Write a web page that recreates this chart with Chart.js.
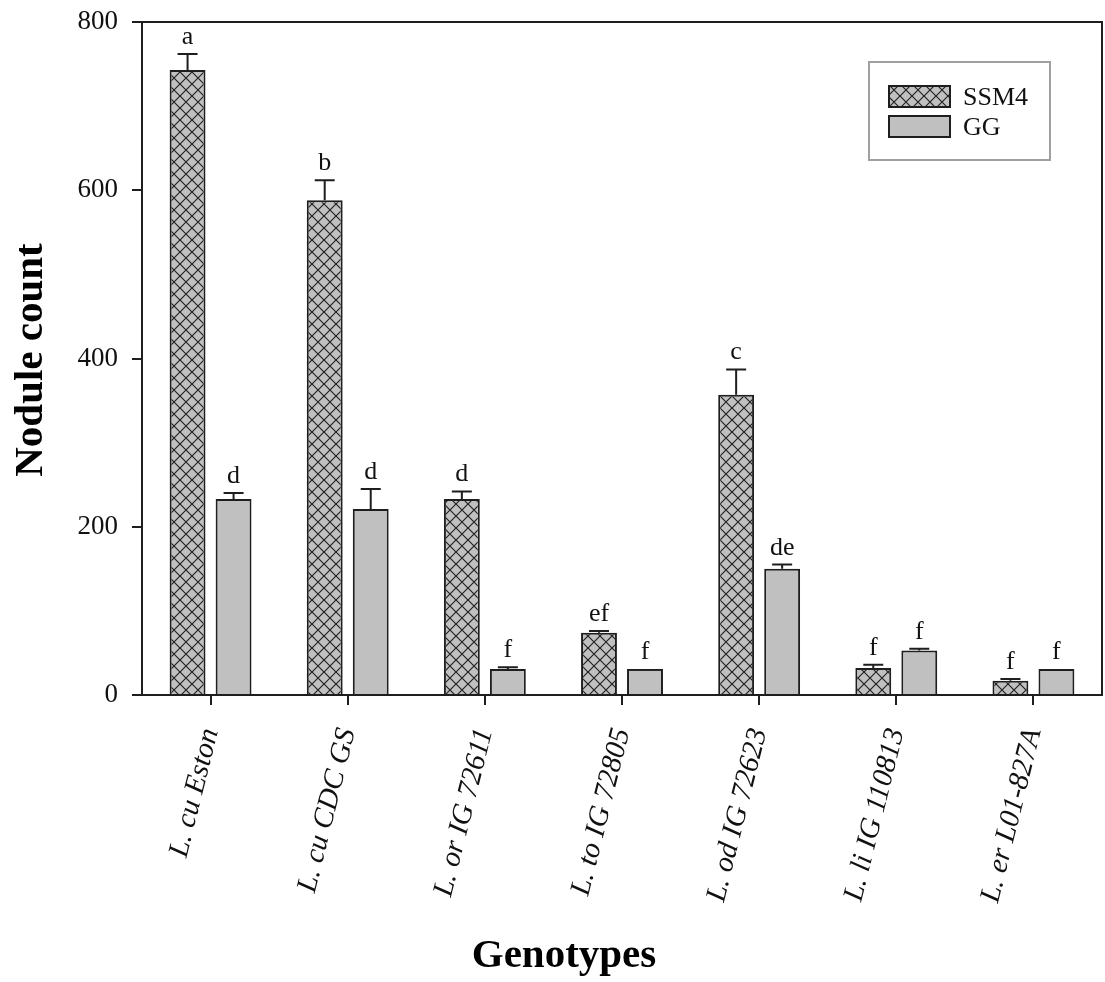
<!DOCTYPE html>
<html><head><meta charset="utf-8">
<script src="https://cdn.jsdelivr.net/npm/chart.js@4.4.0/dist/chart.umd.min.js"></script>
<style>html,body{margin:0;padding:0;background:#fff;} #wrap{width:1105px;height:982px;}</style>
</head><body><div id="wrap"><canvas id="c" width="1105" height="982"></canvas></div>
<script>
const categories = ['L. cu Eston','L. cu CDC GS','L. or IG 72611','L. to IG 72805','L. od IG 72623','L. li IG 110813','L. er L01-827A'];
const seriesNames = ['SSM4','GG'];
const ssm4Values = [743, 588, 233, 74, 357, 32, 17];
const ssm4Errors = [19, 24, 9, 2, 30, 4, 2];
const ggValues = [233, 221, 31, 31, 150, 53, 31];
const ggErrors = [7, 24, 2, 0, 5, 2, 0];
const ssm4Letters = ['a','b','d','ef','c','f','f'];
const ggLetters = ['d','d','f','f','de','f','f'];
const yTicks = [0, 200, 400, 600, 800];
const xTitle = 'Genotypes';
const yTitle = 'Nodule count';

const SERIF = '"Liberation Serif", "Times New Roman", serif';
const INK = '#1e1e1e';

function hatch() {
  const s = 12;
  const c = document.createElement('canvas');
  c.width = s; c.height = s;
  const g = c.getContext('2d');
  g.fillStyle = '#c0c0c0'; g.fillRect(0, 0, s, s);
  g.strokeStyle = '#222'; g.lineWidth = 1.2;
  g.beginPath();
  g.moveTo(0, 0); g.lineTo(s, s);
  g.moveTo(s, 0); g.lineTo(0, s);
  g.stroke();
  return g.createPattern(c, 'repeat');
}

const overlay = {
  id: 'overlay',
  afterDatasetsDraw(chart) {
    const ctx = chart.ctx, ys = chart.scales.y, a = chart.chartArea;
    const vals = [ssm4Values, ggValues], errs = [ssm4Errors, ggErrors], lets = [ssm4Letters, ggLetters];
    ctx.save();
    ctx.strokeStyle = INK; ctx.lineWidth = 2;
    chart.data.datasets.forEach((ds, di) => {
      const meta = chart.getDatasetMeta(di);
      meta.data.forEach((bar, i) => {
        const v = vals[di][i], e = errs[di][i];
        const yTop = ys.getPixelForValue(v), yErr = ys.getPixelForValue(v + e);
        if (e > 0) {
          ctx.beginPath();
          ctx.moveTo(bar.x, yTop); ctx.lineTo(bar.x, yErr);
          ctx.moveTo(bar.x - 10, yErr); ctx.lineTo(bar.x + 10, yErr);
          ctx.stroke();
        }
        ctx.fillStyle = '#111';
        ctx.font = '26px ' + SERIF;
        ctx.textAlign = 'center'; ctx.textBaseline = 'alphabetic';
        ctx.fillText(lets[di][i], bar.x, yErr - 10);
      });
    });
    // frame top & right
    ctx.beginPath();
    ctx.moveTo(a.left, a.top); ctx.lineTo(a.right, a.top); ctx.lineTo(a.right, a.bottom);
    ctx.stroke();
    // legend
    ctx.strokeStyle = '#a0a0a0'; ctx.lineWidth = 2;
    ctx.strokeRect(869, 62, 181, 98);
    chart.data.datasets.forEach((ds, di) => {
      const yy = 86 + di * 30;
      ctx.fillStyle = ds.backgroundColor;
      ctx.fillRect(889, yy, 61, 21);
      ctx.strokeStyle = INK; ctx.lineWidth = 2;
      ctx.strokeRect(889, yy, 61, 21);
      ctx.fillStyle = '#111';
      ctx.font = '26px ' + SERIF;
      ctx.textAlign = 'left'; ctx.textBaseline = 'alphabetic';
      ctx.fillText(ds.label, 963, yy + 19);
    });
    // axis titles
    ctx.fillStyle = '#000';
    ctx.font = 'bold 41px ' + SERIF;
    ctx.textAlign = 'center'; ctx.textBaseline = 'alphabetic';
    ctx.fillText(xTitle, 564, 967);
    ctx.translate(42, 360);
    ctx.rotate(-Math.PI / 2);
    ctx.fillText(yTitle, 0, 0);
    ctx.restore();
  }
};

new Chart(document.getElementById('c'), {
  type: 'bar',
  data: {
    labels: categories,
    datasets: [
      { label: seriesNames[0], data: ssm4Values, backgroundColor: hatch(), borderColor: INK, borderWidth: 2 },
      { label: seriesNames[1], data: ggValues, backgroundColor: '#c0c0c0', borderColor: INK, borderWidth: 2 }
    ]
  },
  options: {
    responsive: false,
    animation: false,
    events: [],
    layout: { padding: { top: 22, right: 3, left: 0, bottom: 0 } },
    datasets: { bar: { categoryPercentage: 0.671, barPercentage: 0.78 } },
    plugins: { legend: { display: false }, tooltip: { enabled: false } },
    scales: {
      x: {
        offset: true,
        grid: { offset: false, drawOnChartArea: false, drawTicks: true, tickLength: 10, color: INK, lineWidth: 2 },
        border: { display: true, color: INK, width: 2 },
        ticks: { font: { family: SERIF, size: 29, style: 'italic' }, color: '#111', minRotation: 76, maxRotation: 76, autoSkip: false, padding: 20 },
        afterFit: s => { s.height = 287; }
      },
      y: {
        min: 0, max: 800,
        afterBuildTicks: s => { s.ticks = yTicks.map(v => ({ value: v })); },
        grid: { drawOnChartArea: false, drawTicks: true, tickLength: 10, color: INK, lineWidth: 2 },
        border: { display: true, color: INK, width: 2 },
        ticks: { font: { family: SERIF, size: 27 }, color: '#111', padding: 14 },
        afterFit: s => { s.width = 142; s.paddingTop = 10; s.paddingBottom = 10; }
      }
    }
  },
  plugins: [overlay]
});
</script>
</body></html>
